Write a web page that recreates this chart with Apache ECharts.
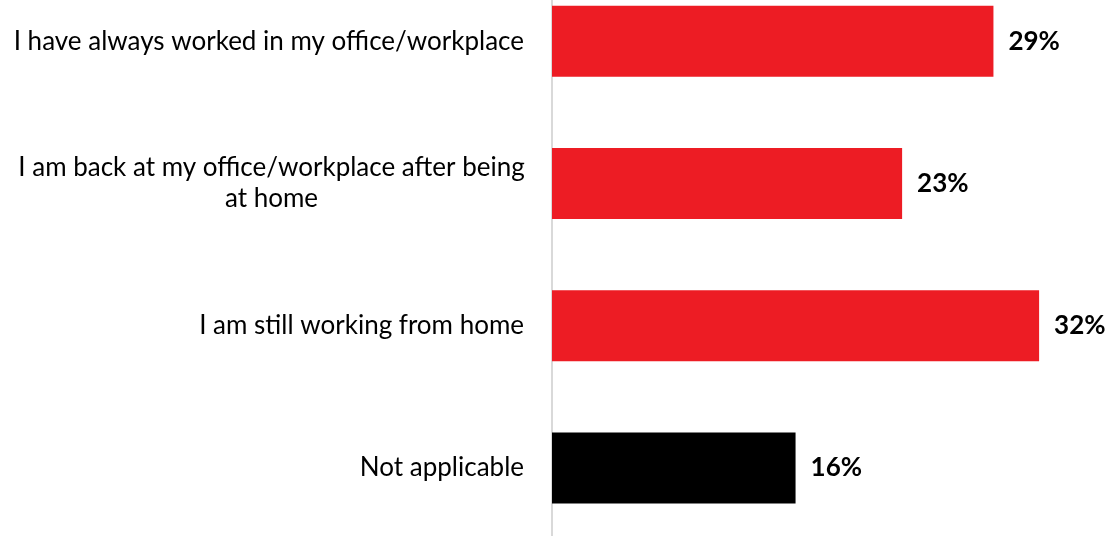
<!DOCTYPE html>
<html>
<head>
<meta charset="utf-8">
<script src="https://cdn.jsdelivr.net/npm/echarts@6/dist/echarts.min.js"></script>
<style>
html,body{margin:0;padding:0;background:#fff;}
#chart{width:1111px;height:536px;}
</style>
</head>
<body>
<div id="chart"></div>
<script>
const categories = [
  "I have always worked in my office/workplace",
  "I am back at my office/workplace after being\nat home",
  "I am still working from home",
  "Not applicable"
];
const values = [29, 23, 32, 16];
const barColors = ["#ED1C24", "#ED1C24", "#ED1C24", "#000000"];

const chart = echarts.init(document.getElementById('chart'), null, {renderer: 'canvas'});
const FONT = 'Lato';
chart.setOption({
  backgroundColor: '#ffffff',
  animation: false,
  grid: {left: 552, top: -30, width: 548, height: 569, containLabel: false, outerBoundsMode: 'none'},
  xAxis: {
    type: 'value', min: 0, max: 36, show: false,
    splitLine: {show: false}
  },
  yAxis: {
    type: 'category', data: categories, inverse: true,
    axisLine: {show: true, lineStyle: {color: '#d9d9d9', width: 2}},
    axisTick: {show: false},
    axisLabel: {
      margin: 28, fontFamily: FONT, fontSize: 26, color: '#000', lineHeight: 32,
      formatter: function (v) {
        return v.indexOf('\n') >= 0 ? '{c|' + v + '}' : v;
      },
      rich: {
        c: {width: 505, align: 'center', fontFamily: FONT, fontSize: 26, color: '#000', lineHeight: 31}
      }
    }
  },
  series: [{
    type: 'bar',
    data: values.map((v, i) => ({value: v, itemStyle: {color: barColors[i]}})),
    barWidth: 71,
    label: {
      show: true, position: 'right', distance: 15,
      formatter: '{c}%', fontFamily: FONT, fontWeight: 'bold', fontSize: 26, color: '#000'
    }
  }]
});
</script>
</body>
</html>
